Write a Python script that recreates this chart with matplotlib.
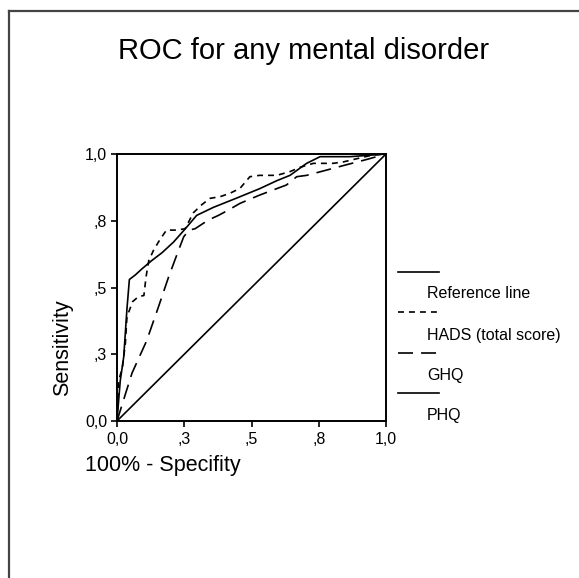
import matplotlib
matplotlib.use("Agg")
import matplotlib.pyplot as plt
from matplotlib.lines import Line2D

plt.rcParams['font.family'] = ['Liberation Sans', 'DejaVu Sans']
plt.rcParams['lines.scale_dashes'] = False

# ROC points (1 - specificity, sensitivity)
phq_fpr = [0, 0.012, 0.025, 0.031, 0.037, 0.046, 0.068, 0.093, 0.128, 0.167, 0.21,
           0.254, 0.296, 0.358, 0.445, 0.53, 0.594, 0.643, 0.705, 0.755, 0.866, 1.0]
phq_tpr = [0, 0.15, 0.24, 0.33, 0.42, 0.53, 0.547, 0.57, 0.60, 0.63, 0.67,
           0.72, 0.77, 0.80, 0.835, 0.87, 0.90, 0.92, 0.965, 0.99, 0.99, 1.0]

hads_fpr = [0, 0.006, 0.02, 0.031, 0.037, 0.058, 0.08, 0.10, 0.108, 0.118, 0.136, 0.16,
            0.184, 0.22, 0.253, 0.284, 0.315, 0.346, 0.383, 0.42, 0.457, 0.494, 0.53,
            0.594, 0.643, 0.68, 0.73, 0.804, 0.84, 0.915, 0.95, 1.0]
hads_tpr = [0, 0.15, 0.2, 0.29, 0.39, 0.447, 0.466, 0.47, 0.54, 0.60, 0.64, 0.68,
            0.715, 0.715, 0.72, 0.78, 0.81, 0.834, 0.84, 0.853, 0.871, 0.915, 0.92,
            0.92, 0.934, 0.95, 0.965, 0.965, 0.97, 0.988, 0.996, 1.0]

ghq_fpr = [0, 0.031, 0.056, 0.11, 0.155, 0.192, 0.229, 0.248, 0.268, 0.29, 0.34, 0.377,
           0.414, 0.457, 0.53, 0.58, 0.63, 0.668, 0.705, 0.78, 0.85, 0.93, 1.0]
ghq_tpr = [0, 0.10, 0.18, 0.30, 0.43, 0.54, 0.64, 0.69, 0.715, 0.72, 0.753, 0.77,
           0.79, 0.815, 0.846, 0.865, 0.884, 0.915, 0.92, 0.94, 0.959, 0.98, 1.0]

ref_line = [0, 1]

tick_pos = [0, 0.25, 0.5, 0.75, 1.0]
tick_labels = ['0,0', ',3', ',5', ',8', '1,0']

legend_names = ['Reference line', 'HADS (total score)', 'GHQ', 'PHQ']

short_dash = (0, (4.3, 3.6))
long_dash = (0, (10.8, 5.8))
styles = ['-', short_dash, long_dash, '-']
lw = 1.2

fig = plt.figure(figsize=(5.79, 5.78), dpi=100)
ax = fig.add_axes([117 / 579, 1 - 421 / 578, 269 / 579, 267 / 578])

ax.plot(ref_line, ref_line, color='black', lw=lw, ls=styles[0])
ax.plot(hads_fpr, hads_tpr, color='black', lw=lw, ls=styles[1])
ax.plot(ghq_fpr, ghq_tpr, color='black', lw=lw, ls=styles[2])
ax.plot(phq_fpr, phq_tpr, color='black', lw=lw, ls=styles[3])

ax.set_xlim(0, 1)
ax.set_ylim(0, 1)
ax.set_xticks(tick_pos)
ax.set_xticklabels(tick_labels)
ax.set_yticks(tick_pos)
ax.set_yticklabels(tick_labels)
ax.tick_params(direction='out', length=4, width=1.2, labelsize=11.5)
ax.tick_params(axis='x', pad=4)
ax.tick_params(axis='y', pad=3)
for s in ax.spines.values():
    s.set_linewidth(1.4)

fig.text(304 / 579, 1 - 59 / 578, 'ROC for any mental disorder', ha='center', va='baseline',
         fontsize=21)
fig.text(63 / 579, 1 - 348 / 578, 'Sensitivity', rotation=90, ha='center', va='center',
         fontsize=15.5)
fig.text(85 / 579, 1 - 471 / 578, '100% - Specifity', ha='left', va='baseline',
         fontsize=15.5)

# legend drawn by hand, SPSS style: line above the label
line_y = [272, 312, 353, 393]
text_y = [298, 340, 380, 420]
for name, st, ly, ty in zip(legend_names, styles, line_y, text_y):
    fig.add_artist(Line2D([398 / 579, 439 / 579], [1 - ly / 578, 1 - ly / 578],
                          color='black', lw=lw, ls=st, transform=fig.transFigure))
    fig.text(427 / 579, 1 - ty / 578, name, ha='left', va='baseline', fontsize=11.5)

# outer frame (left and top only)
fig.add_artist(Line2D([9 / 579, 9 / 579], [0, 1 - 11 / 578], color='#444444', lw=1.6,
                      transform=fig.transFigure))
fig.add_artist(Line2D([9 / 579, 1], [1 - 11 / 578, 1 - 11 / 578], color='#444444', lw=1.6,
                      transform=fig.transFigure))

fig.savefig('out.png', dpi=100, facecolor='white')
